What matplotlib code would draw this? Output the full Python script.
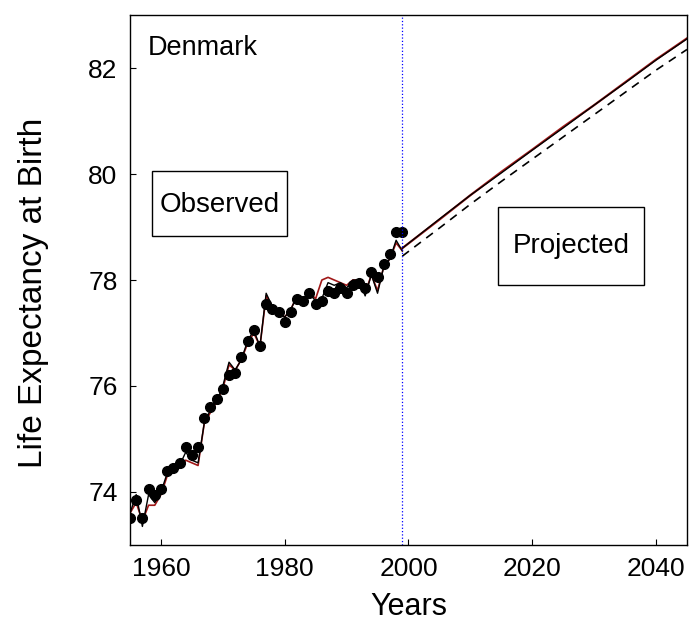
import matplotlib.pyplot as plt
from matplotlib.patches import Rectangle

plt.rcParams['font.family'] = ['Liberation Sans', 'DejaVu Sans']

# observed life expectancy (dots)
obs_years = list(range(1955, 2000))
observed = [73.5, 73.85, 73.5, 74.05, 73.95, 74.05, 74.4, 74.45, 74.55, 74.85,
            74.7, 74.85, 75.4, 75.6, 75.75, 75.95, 76.2, 76.25, 76.55, 76.85,
            77.05, 76.75, 77.55, 77.45, 77.4, 77.2, 77.4, 77.65, 77.6, 77.75,
            77.55, 77.6, 77.8, 77.75, 77.85, 77.75, 77.9, 77.95, 77.85, 78.15,
            78.05, 78.3, 78.5, 78.9, 78.9]

# fitted values, model A (black) and model B (red)
fit_black = [73.6, 73.95, 73.35, 73.95, 73.8, 74.0, 74.35, 74.5, 74.5, 74.75,
             74.6, 74.55, 75.3, 75.55, 75.7, 76.0, 76.45, 76.3, 76.5, 76.85,
             77.05, 76.75, 77.75, 77.5, 77.4, 77.3, 77.45, 77.7, 77.65, 77.75,
             77.6, 77.65, 77.95, 77.9, 77.95, 77.85, 78.0, 78.0, 77.7, 78.1,
             77.75, 78.25, 78.4, 78.75, 78.55]
fit_red = [73.6, 73.8, 73.45, 73.75, 73.75, 73.95, 74.3, 74.4, 74.45, 74.6,
           74.55, 74.5, 75.3, 75.5, 75.7, 75.95, 76.4, 76.3, 76.5, 76.8,
           77.0, 76.75, 77.7, 77.5, 77.4, 77.3, 77.45, 77.7, 77.65, 77.75,
           77.65, 78.0, 78.05, 78.0, 77.95, 77.9, 78.0, 78.0, 77.75, 78.1,
           77.8, 78.25, 78.4, 78.7, 78.55]

# projections
proj_years = [1999, 2005, 2010, 2015, 2020, 2025, 2030, 2035, 2040, 2045]
proj_black = [78.6, 79.15, 79.6, 80.02, 80.45, 80.87, 81.3, 81.72, 82.15, 82.55]
proj_red = [78.6, 79.14, 79.6, 80.04, 80.46, 80.89, 81.3, 81.73, 82.16, 82.56]
proj_dashed = [78.45, 78.98, 79.43, 79.86, 80.28, 80.7, 81.12, 81.54, 81.96, 82.35]

fig = plt.figure(figsize=(6.93, 6.34), dpi=100)
ax = fig.add_axes([0.1876, 0.1404, 0.8037, 0.8359])

ax.plot(obs_years, fit_red, color="#a01818", lw=1.2)
ax.plot(obs_years, fit_black, color="black", lw=1.0)
ax.plot(obs_years, observed, "o", color="black", ms=7)

ax.plot(proj_years, proj_red, color="#a01818", lw=1.6)
ax.plot(proj_years, proj_black, color="black", lw=1.0)
ax.plot(proj_years, proj_dashed, "--", color="black", lw=1.2, dashes=(5, 4))

ax.axvline(1999, color="blue", lw=0.9, ls=":")

ax.text(1957.9, 82.38, "Denmark", fontsize=19.5, va="center")

ax.add_patch(Rectangle((1958.5, 78.83), 21.9, 1.22, fill=False, lw=1.0, ec="black"))
ax.text(1969.45, 79.42, "Observed", fontsize=20, ha="center", va="center")
ax.add_patch(Rectangle((2014.5, 77.9), 23.6, 1.48, fill=False, lw=1.0, ec="black"))
ax.text(2026.3, 78.64, "Projected", fontsize=20, ha="center", va="center")

ax.set_xlim(1955, 2045)
ax.set_ylim(73, 83)
ax.set_xticks([1960, 1980, 2000, 2020, 2040])
ax.set_yticks([74, 76, 78, 80, 82])
ax.tick_params(labelsize=19, direction="in", length=4, pad=9)
ax.set_xlabel("Years", fontsize=22)
ax.set_ylabel("Life Expectancy at Birth", fontsize=24)
ax.xaxis.set_label_coords(0.5, -0.088)
ax.yaxis.set_label_coords(-0.145, 0.475)
for s in ax.spines.values():
    s.set_linewidth(1.0)

fig.savefig("out.png", dpi=100)
